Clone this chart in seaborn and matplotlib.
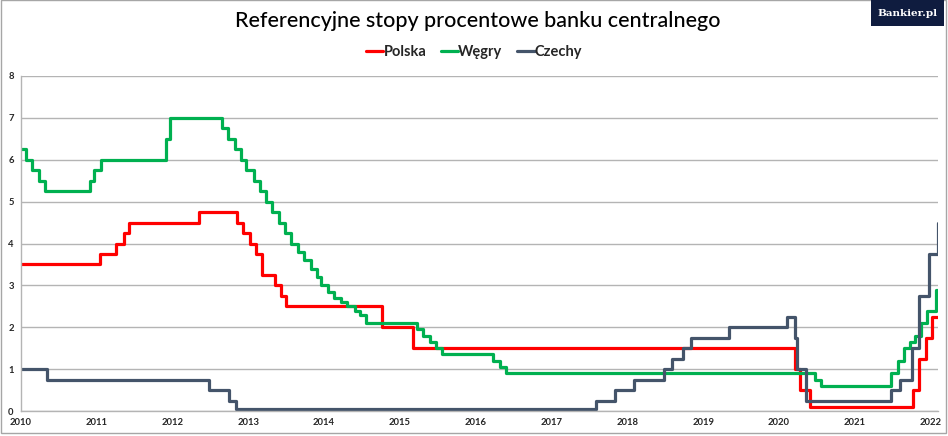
import pandas as pd
import matplotlib
matplotlib.use('Agg')
import matplotlib.pyplot as plt
import matplotlib.dates as mdates
from matplotlib.patches import Rectangle
import seaborn as sns

# Stopy referencyjne (data decyzji, poziom w %)
pl_dates = ["2010-01-01", "2011-01-19", "2011-04-06", "2011-05-12", "2011-06-09",
            "2012-05-10", "2012-11-08", "2012-12-06", "2013-01-10", "2013-02-07",
            "2013-03-07", "2013-05-09", "2013-06-06", "2013-07-04", "2014-10-09",
            "2015-03-05", "2020-03-18", "2020-04-09", "2020-05-29", "2021-10-07",
            "2021-11-04", "2021-12-09", "2022-01-05", "2022-02-05"]
pl_rates = [3.50, 3.75, 4.00, 4.25, 4.50, 4.75, 4.50, 4.25, 4.00, 3.75,
            3.25, 3.00, 2.75, 2.50, 2.00, 1.50, 1.00, 0.50, 0.10, 0.50,
            1.25, 1.75, 2.25, 2.25]

hu_dates = ["2010-01-01", "2010-01-26", "2010-02-23", "2010-03-29", "2010-04-27",
            "2010-11-29", "2010-12-21", "2011-01-25", "2011-11-30", "2011-12-21",
            "2012-08-29", "2012-09-26", "2012-10-31", "2012-11-28", "2012-12-19",
            "2013-01-30", "2013-02-27", "2013-03-27", "2013-04-24", "2013-05-29",
            "2013-06-26", "2013-07-24", "2013-08-28", "2013-09-25", "2013-10-30",
            "2013-11-27", "2013-12-18", "2014-01-22", "2014-02-19", "2014-03-26",
            "2014-04-23", "2014-05-28", "2014-06-25", "2014-07-23", "2015-03-25",
            "2015-04-22", "2015-05-27", "2015-06-24", "2015-07-22", "2016-03-23",
            "2016-04-27", "2016-05-25", "2020-06-23", "2020-07-21", "2021-06-22",
            "2021-07-27", "2021-08-24", "2021-09-21", "2021-10-19", "2021-11-16",
            "2021-12-14", "2022-01-25", "2022-02-05"]
hu_rates = [6.25, 6.00, 5.75, 5.50, 5.25, 5.50, 5.75, 6.00, 6.50, 7.00,
            6.75, 6.50, 6.25, 6.00, 5.75, 5.50, 5.25, 5.00, 4.75, 4.50,
            4.25, 4.00, 3.80, 3.60, 3.40, 3.20, 3.00, 2.85, 2.70, 2.60,
            2.50, 2.40, 2.30, 2.10, 1.95, 1.80, 1.65, 1.50, 1.35, 1.20,
            1.05, 0.90, 0.75, 0.60, 0.90, 1.20, 1.50, 1.65, 1.80, 2.10,
            2.40, 2.90, 2.90]

cz_dates = ["2010-01-01", "2010-05-07", "2012-06-28", "2012-10-01", "2012-11-02",
            "2017-08-04", "2017-11-03", "2018-02-02", "2018-06-28", "2018-08-03",
            "2018-09-27", "2018-11-02", "2019-05-03", "2020-02-07", "2020-03-17",
            "2020-03-27", "2020-05-11", "2021-06-24", "2021-08-06", "2021-10-01",
            "2021-11-05", "2021-12-24", "2022-02-05"]
cz_rates = [1.00, 0.75, 0.50, 0.25, 0.05, 0.25, 0.50, 0.75, 1.00, 1.25,
            1.50, 1.75, 2.00, 2.25, 1.75, 1.00, 0.25, 0.50, 0.75, 1.50,
            2.75, 3.75, 4.50]

countries = ["Polska", "Węgry", "Czechy"]
colors = ["#FF0000", "#00B050", "#44546A"]

df = pd.concat([
    pd.DataFrame({"data": pd.to_datetime(pl_dates), "stopa": pl_rates, "kraj": "Polska"}),
    pd.DataFrame({"data": pd.to_datetime(hu_dates), "stopa": hu_rates, "kraj": "Węgry"}),
    pd.DataFrame({"data": pd.to_datetime(cz_dates), "stopa": cz_rates, "kraj": "Czechy"}),
], ignore_index=True)

sns.set_style("white")
plt.rcParams['font.family'] = ['Lato', 'DejaVu Sans']

fig = plt.figure(figsize=(9.48, 4.36), dpi=100)
ax = fig.add_axes([0.0218, 0.0573, 0.9677, 0.7684])

sns.lineplot(data=df, x="data", y="stopa", hue="kraj", hue_order=countries,
             palette=colors, estimator=None, drawstyle="steps-post",
             linewidth=2.3, ax=ax)

ax.set_xlim(pd.Timestamp("2010-01-01"), pd.Timestamp("2022-02-05"))
ax.set_ylim(0, 8)
ax.set_yticks(range(0, 9))
ax.xaxis.set_major_locator(mdates.YearLocator())
ax.xaxis.set_major_formatter(mdates.DateFormatter("%Y"))
ax.set_xlabel("")
ax.set_ylabel("")

grid_col = "#B4B4B4"
ax.yaxis.grid(True, color=grid_col, linewidth=1)
ax.xaxis.grid(False)
for side in ["top", "right"]:
    ax.spines[side].set_visible(False)
for side in ["left", "bottom"]:
    ax.spines[side].set_color(grid_col)
    ax.spines[side].set_linewidth(1)
ax.tick_params(axis="both", length=3, width=1, color=grid_col, labelsize=6.8, pad=2)
for lbl in ax.get_xticklabels() + ax.get_yticklabels():
    lbl.set_fontweight("bold")

handles, labels = ax.get_legend_handles_labels()
ax.legend(handles, labels, loc="center", bbox_to_anchor=(0.5, 1 - 52 / 436),
          bbox_transform=fig.transFigure, ncol=3, frameon=False,
          handlelength=1.2, handletextpad=0.0, columnspacing=1.0,
          prop={"weight": "bold", "size": 10.5})

fig.text(0.504, 1 - 21 / 436, "Referencyjne stopy procentowe banku centralnego",
         ha="center", va="center", fontsize=15.5, color="black", fontweight="medium")

# ramka wokół wykresu
fig.patches.append(Rectangle((0.001, 0.006), 0.997, 0.993, transform=fig.transFigure,
                             fill=False, edgecolor="#A6A6A6", linewidth=1))
# logo
fig.patches.append(Rectangle((871 / 948, 1 - 26 / 436), 73 / 948, 26 / 436,
                             transform=fig.transFigure, facecolor="#0F1C3F",
                             edgecolor="none"))
fig.text(907 / 948, 1 - 13 / 436, "Bankier.pl", ha="center", va="center",
         color="white", fontsize=7.5, fontweight="bold", family="DejaVu Serif")

fig.savefig("out.png", dpi=100)
